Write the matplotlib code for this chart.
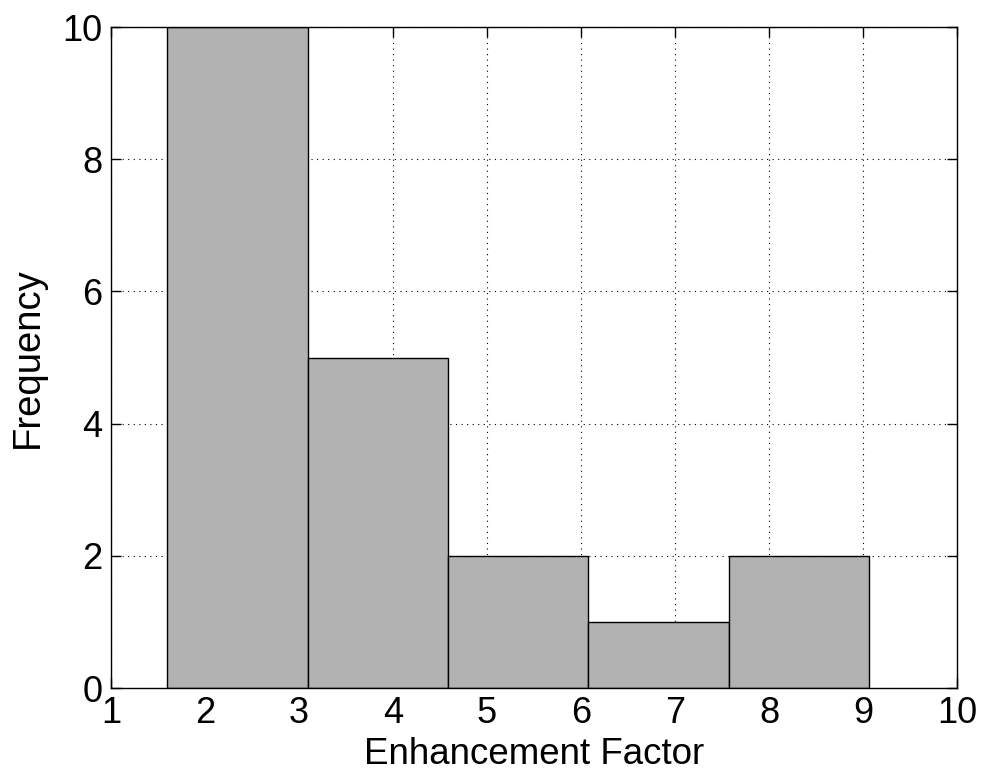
import numpy as np
from matplotlib import pyplot as plt

# histogram bins (left edges) and counts
bin_edges = [1.599, 3.096, 4.588, 6.078, 7.574, 9.067]
counts = [10, 5, 2, 1, 2]
xticks = [1, 2, 3, 4, 5, 6, 7, 8, 9, 10]
yticks = [0, 2, 4, 6, 8, 10]

plt.rcParams['font.family'] = ['Liberation Sans', 'DejaVu Sans']

fig = plt.figure(figsize=(9.81, 7.79), dpi=100)
ax = fig.add_axes([0.113, 0.1168, 0.8625, 0.8485])

edges = np.array(bin_edges)
widths = np.diff(edges)
ax.bar(edges[:-1], counts, width=widths, align='edge',
       color='#b2b2b2', edgecolor='black', linewidth=1.0, zorder=2)

ax.set_xlim(1, 10)
ax.set_ylim(0, 10)
ax.set_xticks(xticks)
ax.set_yticks(yticks)
ax.grid(True, color='black', linestyle=(0, (1, 4)), linewidth=0.8, zorder=0)
ax.set_axisbelow(True)
ax.tick_params(direction='in', length=7, width=1, top=True, right=True,
               labelsize=26, pad=6)
for s in ax.spines.values():
	s.set_linewidth(1.0)

ax.set_xlabel('Enhancement Factor', fontsize=26.5, labelpad=4)
ax.set_ylabel('Frequency', fontsize=27.5, labelpad=12)

fig.savefig('out.png', dpi=100)
